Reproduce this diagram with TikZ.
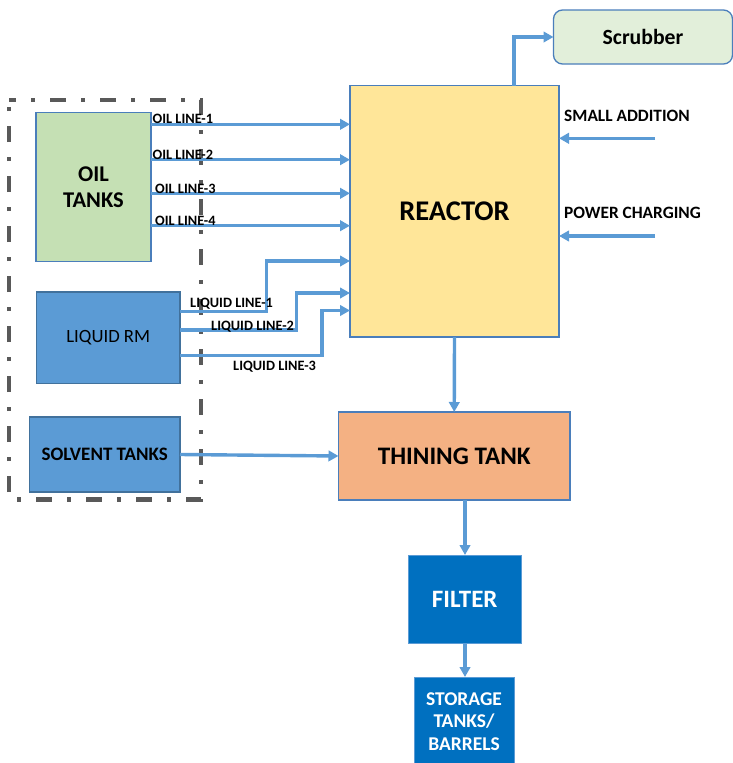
\documentclass[tikz,border=0pt]{standalone}
\usepackage{fontspec}
\setmainfont{Carlito}
\usetikzlibrary{arrows.meta,calc}
\definecolor{arrowblue}{HTML}{5B9BD5}
\definecolor{edgeblue}{HTML}{4A7EBB}
\definecolor{darkedge}{HTML}{41719C}
\definecolor{reactorfill}{HTML}{FFE699}
\definecolor{oilfill}{HTML}{C5E0B4}
\definecolor{scrubfill}{HTML}{E2EFDA}
\definecolor{rmfill}{HTML}{5B9BD5}
\definecolor{thinfill}{HTML}{F4B183}
\definecolor{filterfill}{HTML}{0070C0}
\definecolor{dashgray}{HTML}{595959}
\newcommand\fsz[2]{\fontsize{#1}{#2}\selectfont}
\begin{document}
\begin{tikzpicture}[x=1pt,y=-1pt,
  box/.style={draw=edgeblue,line width=1.3pt,inner sep=0pt,outer sep=0pt,align=center,text=black},
  arr/.style={draw=arrowblue,line width=3.4pt,-{Triangle[length=10pt,width=10.5pt]}},
  lbl/.style={inner sep=0pt,anchor=base west,font=\bfseries\fsz{14.3}{17}},
  sidelbl/.style={inner sep=0pt,anchor=base west,font=\bfseries\fsz{17.3}{20}},
  dashbox/.style={draw=dashgray,line width=4.5pt,dash pattern=on 16pt off 15pt on 4pt off 15pt,dash phase=9pt}
]
\useasboundingbox (0,0) rectangle (733,763);

% nodes
\node[box,fill=scrubfill,rounded corners=9pt,minimum width=179pt,minimum height=54pt,font=\bfseries\fsz{21.7}{26}] (scrub) at (643,37) {Scrubber};
\node[box,fill=reactorfill,minimum width=209pt,minimum height=251.5pt,font=\bfseries\fsz{28.5}{34}] (reactor) at (454.5,211.25) {REACTOR};
\node[box,fill=oilfill,minimum width=115pt,minimum height=149pt,font=\bfseries\fsz{22.5}{26}] (oil) at (93.5,187) {OIL\\TANKS};
\node[box,draw=darkedge,fill=rmfill,minimum width=143.5pt,minimum height=91.5pt,font=\fsz{18.7}{22}] (lrm) at (108.25,337.75) {LIQUID RM};
\node[box,draw=darkedge,fill=rmfill,minimum width=150.5pt,minimum height=75pt,font=\bfseries\fsz{19}{23}] (solv) at (104.75,454.5) {SOLVENT TANKS};
\node[box,fill=thinfill,minimum width=231.5pt,minimum height=88pt,font=\bfseries\fsz{25.2}{30}] (thin) at (454.25,456) {THINING TANK};
\node[box,draw=arrowblue,line width=1pt,fill=filterfill,text=white,minimum width=113.5pt,minimum height=88.5pt,font=\bfseries\fsz{25}{30}] (filter) at (464.75,599.25) {FILTER};
\node[box,draw=arrowblue,line width=1pt,fill=filterfill,text=white,minimum width=100pt,minimum height=89pt,font=\bfseries\fsz{19.5}{22.5}] (store) at (464,721.5) {STORAGE\\TANKS/\\BARRELS};

% dash-dot frame
\draw[dashbox] (9,100) -- (201,100) -- (201,499.5) -- (9,499.5) -- cycle;

% oil lines
\draw[arr] (oil.east |- 0,124.3) -- (reactor.west |- 0,124.3);
\draw[arr] (oil.east |- 0,159.7) -- (reactor.west |- 0,159.7);
\draw[arr] (oil.east |- 0,193.3) -- (reactor.west |- 0,193.3);
\draw[arr] (oil.east |- 0,225.7) -- (reactor.west |- 0,225.7);
\node[lbl] (ol1) at (152.5,123) {OIL LINE-1};
\node[lbl] (ol2) at (152.5,159) {OIL LINE-2};
\node[lbl] (ol3) at (155,193) {OIL LINE-3};
\node[lbl] (ol4) at (155,225) {OIL LINE-4};

% liquid lines
\draw[arr] (lrm.east |- 0,311.5) -| (266.5,261) -- (reactor.west |- 0,261);
\draw[arr] (lrm.east |- 0,330) -| (296.7,293) -- (reactor.west |- 0,293);
\draw[arr] (lrm.east |- 0,355.5) -| (322,310.5) -- (reactor.west |- 0,310.5);
\node[lbl] (ll1) at (190,307) {LIQUID LINE-1};
\node[lbl] (ll2) at (211,330) {LIQUID LINE-2};
\node[lbl] (ll3) at (233,370) {LIQUID LINE-3};

% scrubber
\draw[arr] (reactor.north -| 514,0) |- (scrub.west);

% side inputs
\coordinate (sa) at (655,138.3);
\coordinate (pc) at (655,236);
\draw[arr] (sa) -- (reactor.east |- sa);
\draw[arr] (pc) -- (reactor.east |- pc);
\node[sidelbl] (salbl) at (564,121.5) {SMALL ADDITION};
\node[sidelbl] (pclbl) at (564,218.3) {POWER CHARGING};

% flow down
\draw[arr] (reactor.south) -- (thin.north);
\draw[arr] (solv.east) -- (thin.west);
\draw[arr] (thin.south -| 465,0) -- (filter.north -| 465,0);
\draw[arr] (filter.south -| 465,0) -- (store.north -| 465,0);
\end{tikzpicture}
\end{document}
